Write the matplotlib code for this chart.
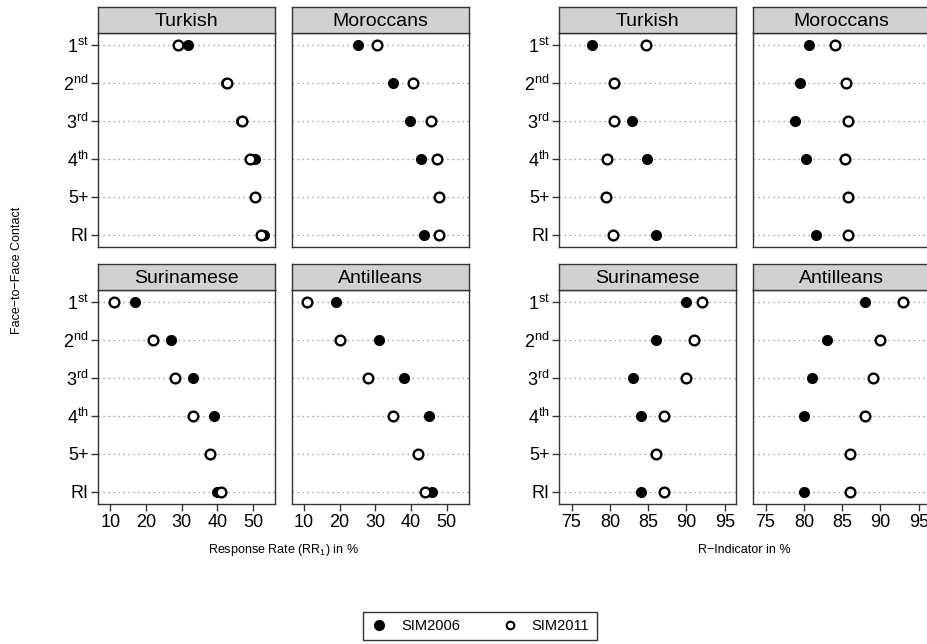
import numpy as np
import matplotlib
matplotlib.use("Agg")
import matplotlib.pyplot as plt
from matplotlib.lines import Line2D

plt.rcParams['font.family'] = ['Liberation Sans', 'DejaVu Sans']
plt.rcParams['mathtext.fontset'] = 'custom'
plt.rcParams['mathtext.rm'] = 'Liberation Sans'
plt.rcParams['mathtext.it'] = 'Liberation Sans:italic'

# data; nan = no point
contacts = [r'$1^{\mathrm{st}}$', r'$2^{\mathrm{nd}}$', r'$3^{\mathrm{rd}}$',
            r'$4^{\mathrm{th}}$', '5+', 'RI']
groups = ['Turkish', 'Moroccans', 'Surinamese', 'Antilleans']
nan = np.nan

rr_2006_turkish = [31.6, 42.4, 46.6, 50.5, nan, 53.0]
rr_2011_turkish = [28.8, 42.6, 47.0, 49.1, 50.5, 52.2]
rr_2006_moroccans = [25.2, 35.0, 39.7, 42.7, nan, 43.7]
rr_2011_moroccans = [30.4, 40.7, 45.7, 47.2, 47.9, 48.0]
rr_2006_surinamese = [17, 27, 33, 39, nan, 40]
rr_2011_surinamese = [11, 22, 28, 33, 38, 41]
rr_2006_antilleans = [19, 31, 38, 45, nan, 46]
rr_2011_antilleans = [11, 20, 28, 35, 42, 44]

ri_2006_turkish = [77.7, 80.5, 82.9, 84.9, nan, 86.0]
ri_2011_turkish = [84.7, 80.6, 80.6, 79.6, 79.5, 80.4]
ri_2006_moroccans = [80.7, 79.5, 78.8, 80.3, nan, 81.6]
ri_2011_moroccans = [84.0, 85.5, 85.8, 85.4, 85.8, 85.7]
ri_2006_surinamese = [90, 86, 83, 84, nan, 84]
ri_2011_surinamese = [92, 91, 90, 87, 86, 87]
ri_2006_antilleans = [88, 83, 81, 80, nan, 80]
ri_2011_antilleans = [93, 90, 89, 88, 86, 86]

rr_ticks = [10, 20, 30, 40, 50]
ri_ticks = [75, 80, 85, 90, 95]

rr = {'Turkish': (rr_2006_turkish, rr_2011_turkish),
      'Moroccans': (rr_2006_moroccans, rr_2011_moroccans),
      'Surinamese': (rr_2006_surinamese, rr_2011_surinamese),
      'Antilleans': (rr_2006_antilleans, rr_2011_antilleans)}
ri = {'Turkish': (ri_2006_turkish, ri_2011_turkish),
      'Moroccans': (ri_2006_moroccans, ri_2011_moroccans),
      'Surinamese': (ri_2006_surinamese, ri_2011_surinamese),
      'Antilleans': (ri_2006_antilleans, ri_2011_antilleans)}

W, H = 928, 644
fig = plt.figure(figsize=(W / 100, H / 100), dpi=100)


def px_axes(x0, y0, x1, y1):
    # pixel box (top-left origin) -> figure axes
    return fig.add_axes([x0 / W, 1 - y1 / H, (x1 - x0) / W, (y1 - y0) / H])


def panel(x0, top, name, data, xlim, ticks, show_y, show_x):
    strip_h = 26
    ax = px_axes(x0, top + strip_h, x0 + 177, top + strip_h + 214)
    st = px_axes(x0, top, x0 + 177, top + strip_h)
    st.set_facecolor('#d1d1d1')
    st.set_xticks([])
    st.set_yticks([])
    st.text(0.5, 0.45, name, ha='center', va='center', fontsize=14,
            transform=st.transAxes)
    for s in st.spines.values():
        s.set_linewidth(1.0)
        s.set_color('#333333')

    y = np.arange(1, len(contacts) + 1)
    for yy in y:
        ax.axhline(yy, color='#888888', lw=0.9, ls=(0, (1, 3)), zorder=1)
    v06, v11 = data
    ax.plot(v06, y, 'o', ms=7, mfc='black', mec='black', mew=1.0,
            ls='none', zorder=3)
    ax.plot(v11, y, 'o', ms=7, mfc='white', mec='black', mew=1.7,
            ls='none', zorder=4)
    ax.set_xlim(*xlim)
    ax.set_ylim(6.33, 0.67)
    ax.set_yticks(y)
    ax.set_xticks(ticks)
    ax.tick_params(direction='out', length=5, width=1, color='#333333',
                   labelsize=13, pad=2)
    if show_y:
        ax.set_yticklabels(contacts)
    else:
        ax.tick_params(axis='y', left=False, labelleft=False)
    if not show_x:
        ax.tick_params(axis='x', bottom=False, labelbottom=False)
    for s in ax.spines.values():
        s.set_linewidth(1.0)
        s.set_color('#333333')
    return ax


rr_lim = (6.6, 56.2)
ri_lim = (73.4, 96.5)
left_x = [98.3, 291.7]
right_x = [559.3, 753.3]
tops = [7, 264]

for i, g in enumerate(groups):
    row, col = divmod(i, 2)
    panel(left_x[col], tops[row], g, rr[g], rr_lim, rr_ticks,
          col == 0, row == 1)
    panel(right_x[col], tops[row], g, ri[g], ri_lim, ri_ticks,
          col == 0, row == 1)

fig.text(283 / W, 1 - 550 / H, 'Response Rate (RR$_1$) in %',
         ha='center', va='center', fontsize=9)
fig.text(744 / W, 1 - 550 / H, 'R\u2212Indicator in %',
         ha='center', va='center', fontsize=9)
fig.text(17 / W, 1 - 270 / H, 'Face\u2212to\u2212Face Contact',
         ha='center', va='center', rotation=90, fontsize=9)

handles = [Line2D([], [], marker='o', ls='none', ms=7, mfc='black',
                  mec='black'),
           Line2D([], [], marker='o', ls='none', ms=5.5, mfc='white',
                  mec='black', mew=1.5)]
leg = fig.legend(handles, ['SIM2006', 'SIM2011'], ncol=2,
                 loc='center', bbox_to_anchor=(480 / W, 1 - 626 / H),
                 fontsize=10.5, frameon=True, fancybox=False,
                 handletextpad=0.9, columnspacing=2.8, borderpad=0.5,
                 handlelength=1.2)
leg.get_frame().set_edgecolor('black')
leg.get_frame().set_linewidth(1.0)

fig.savefig('out.png', dpi=100)
